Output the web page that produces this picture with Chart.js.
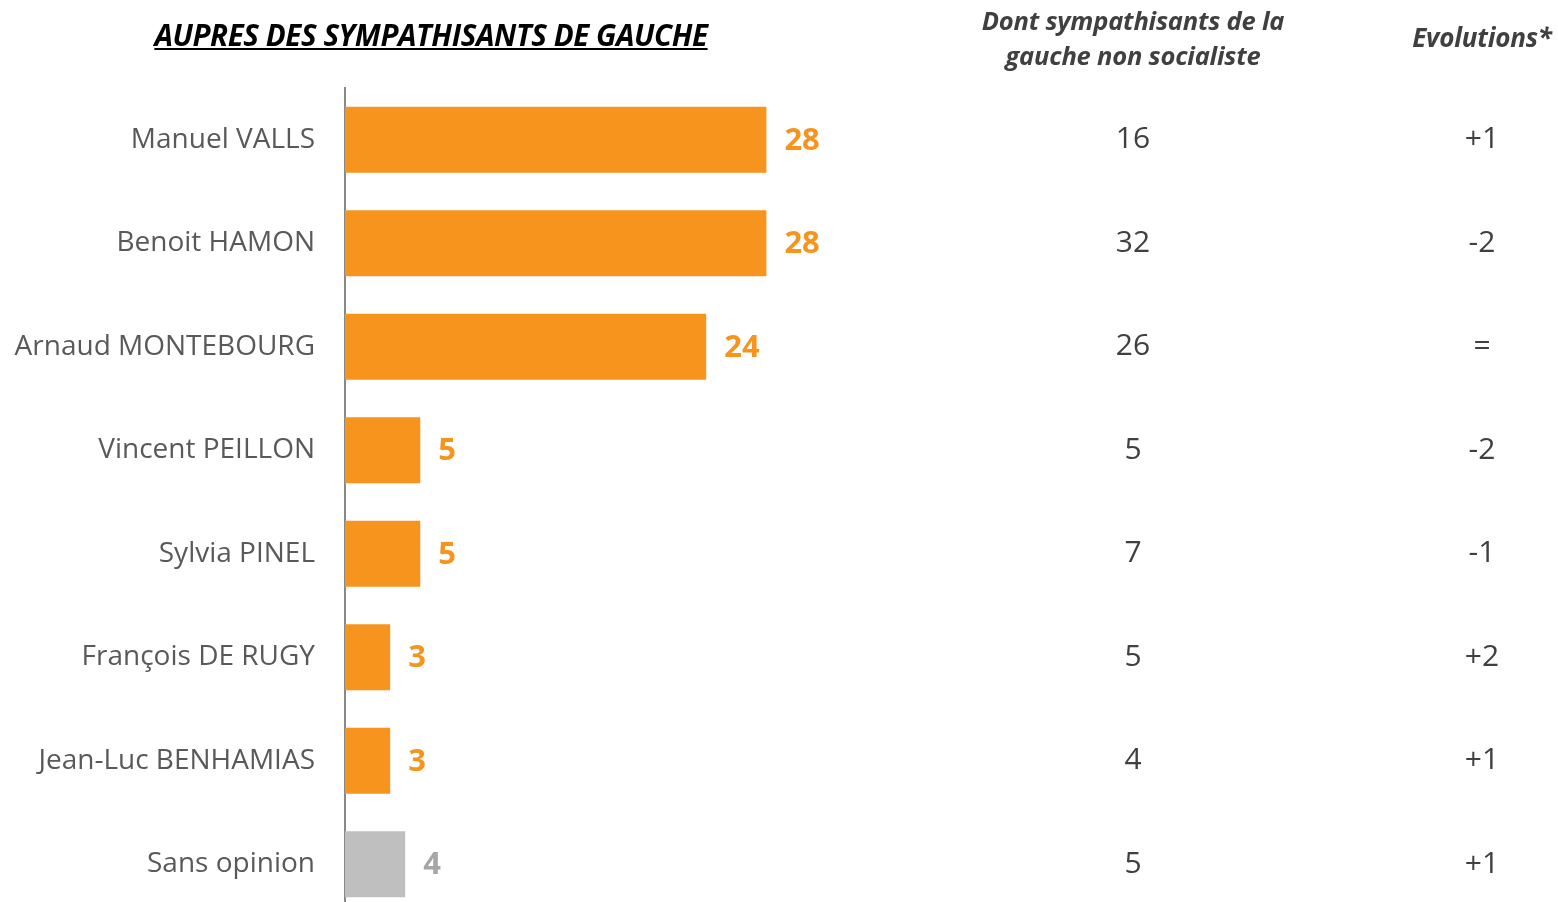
<!DOCTYPE html>
<html>
<head>
<meta charset="utf-8">
<script src="https://cdn.jsdelivr.net/npm/chart.js@4.4.0/dist/chart.umd.min.js"></script>
<style>
  html, body { margin: 0; padding: 0; background: #fff; overflow: hidden; }
  #wrap { position: relative; width: 1558px; height: 902px; overflow: hidden; }
  #box { position: absolute; left: 0; top: 0; width: 1558px; height: 916px; }
  .hdr { position: absolute; font-family: 'Open Sans', sans-serif; font-weight: bold; font-style: italic; text-align: center; white-space: nowrap; }
  #title { left: 431px; top: 15px; transform: translateX(-50%); font-size: 29.5px; line-height: 40px; color: #000; text-decoration: underline; letter-spacing: -0.4px; }
  #h1 { left: 1133px; top: 3px; transform: translateX(-50%); font-size: 25.5px; line-height: 35px; color: #404040; letter-spacing: -0.2px; }
  #h2 { left: 1482px; top: 20px; transform: translateX(-50%); font-size: 26px; line-height: 35px; color: #404040; letter-spacing: -0.2px; }
</style>
</head>
<body>
<div id="wrap">
  <div id="box"><canvas id="chart"></canvas></div>
  <div class="hdr" id="title">AUPRES DES SYMPATHISANTS DE GAUCHE</div>
  <div class="hdr" id="h1">Dont sympathisants de la<br>gauche non socialiste</div>
  <div class="hdr" id="h2">Evolutions*</div>
</div>
<script>
// data
const candidates = ['Manuel VALLS', 'Benoit HAMON', 'Arnaud MONTEBOURG', 'Vincent PEILLON', 'Sylvia PINEL', 'François DE RUGY', 'Jean-Luc BENHAMIAS', 'Sans opinion'];
const scoresGauche = [28, 28, 24, 5, 5, 3, 3, 4];
const scoresNonSocialiste = [16, 32, 26, 5, 7, 5, 4, 5];
const evolutions = ['+1', '-2', '=', '-2', '-1', '+2', '+1', '+1'];

const ORANGE = '#F7941D';
const GREY_BAR = '#BFBFBF';
const FONT = "'Open Sans', sans-serif";

const barColors = candidates.map(c => c === 'Sans opinion' ? GREY_BAR : ORANGE);
const labelColors = candidates.map(c => c === 'Sans opinion' ? '#A6A6A6' : ORANGE);

const canvas = document.getElementById('chart');

// value labels next to the bars
const valueLabels = {
  id: 'valueLabels',
  afterDatasetsDraw(chart) {
    const ctx = chart.ctx;
    const meta = chart.getDatasetMeta(0);
    ctx.save();
    ctx.font = 'bold 31px ' + FONT;
    ctx.textAlign = 'left';
    ctx.textBaseline = 'middle';
    meta.data.forEach((bar, i) => {
      ctx.fillStyle = labelColors[i];
      ctx.fillText(String(scoresGauche[i]), bar.x + 18, bar.y + 1);
    });
    ctx.restore();
  }
};

// the two text columns on the right
const tableColumns = {
  id: 'tableColumns',
  afterDraw(chart) {
    const ctx = chart.ctx;
    const y = chart.scales.y;
    ctx.save();
    ctx.font = '30px ' + FONT;
    ctx.fillStyle = '#404040';
    ctx.textAlign = 'center';
    ctx.textBaseline = 'middle';
    candidates.forEach((c, i) => {
      const py = y.getPixelForValue(i);
      ctx.fillText(String(scoresNonSocialiste[i]), 1133, py);
      ctx.fillText(evolutions[i], 1482, py);
    });
    ctx.restore();
  }
};

new Chart(canvas, {
  type: 'bar',
  data: {
    labels: candidates,
    datasets: [{
      data: scoresGauche,
      backgroundColor: barColors,
      borderWidth: 0,
      categoryPercentage: 1,
      barPercentage: 0.64
    }]
  },
  options: {
    indexAxis: 'y',
    responsive: true,
    maintainAspectRatio: false,
    animation: false,
    layout: { padding: { top: 88, left: 0, right: 0, bottom: 0 } },
    plugins: {
      legend: { display: false },
      tooltip: { enabled: false }
    },
    scales: {
      x: {
        display: false,
        min: 0,
        max: 80.6
      },
      y: {
        afterFit(scale) {
          scale.width = 345;
          scale.paddingTop = 0;
          scale.paddingBottom = 0;
        },
        grid: { display: true, drawOnChartArea: false, drawTicks: false },
        border: { display: true, color: '#888888', width: 2 },
        ticks: {
          color: '#595959',
          padding: 30,
          font: { family: FONT, size: 28 }
        }
      }
    }
  },
  plugins: [valueLabels, tableColumns]
});
</script>
</body>
</html>
